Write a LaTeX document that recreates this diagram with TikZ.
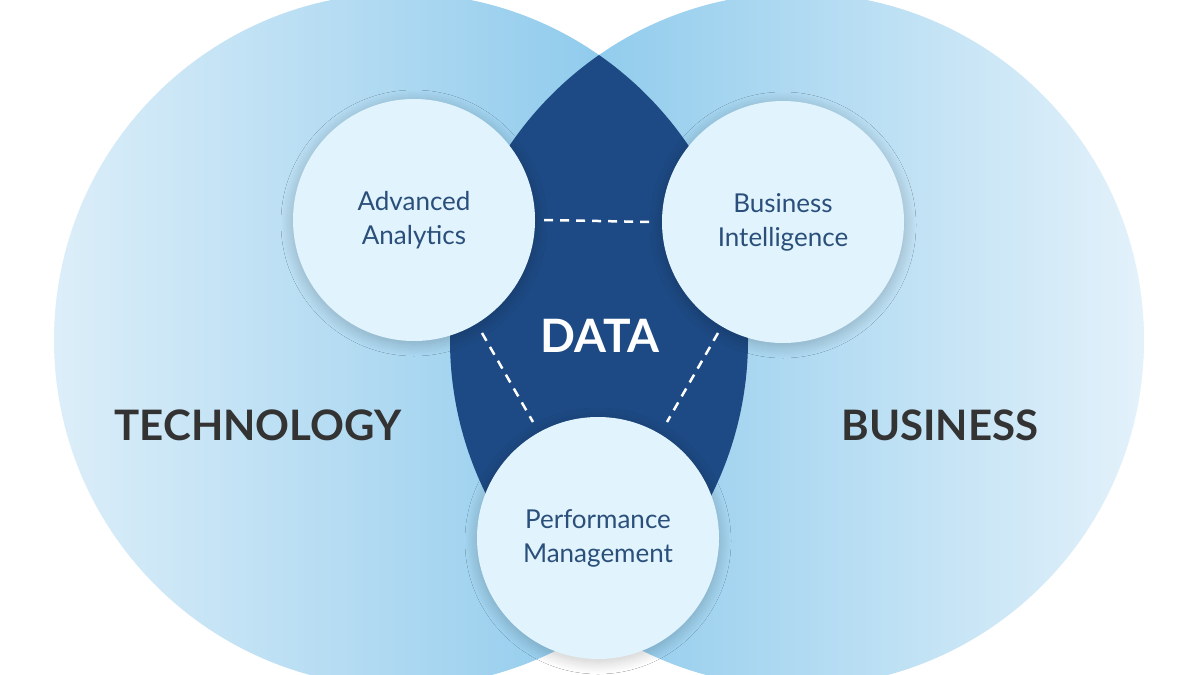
\documentclass[tikz,border=0pt]{standalone}
\usepackage{fontspec}
\setmainfont{Lato}
\usetikzlibrary{shadows.blur}
\definecolor{lightb}{HTML}{DCEEF9}
\definecolor{midb}{HTML}{7CC2E9}
\definecolor{lens}{HTML}{1D4A84}
\definecolor{small}{HTML}{E1F3FC}
\definecolor{txt}{HTML}{2B4F7B}
\definecolor{big}{HTML}{333333}
\tikzset{x=1pt,y=-1pt,
 sm/.style={circle,fill=small,minimum size=242pt,inner sep=0pt,align=center,font=\fontsize{26}{34}\selectfont,text=txt,blur shadow={shadow blur steps=20,shadow xshift=0pt,shadow yshift=-3pt,shadow blur radius=12pt,shadow opacity=22}},
 bigl/.style={font=\fontsize{42}{46}\selectfont\bfseries,text=big},
 dl/.style={white,line width=2.5pt,dash pattern=on 9pt off 7pt}}
\begin{document}
\begin{tikzpicture}
\useasboundingbox (0,0) rectangle (1200,675);
\fill[white] (0,0) rectangle (1200,675);
\begin{scope}
\clip (0,0) rectangle (1200,675);
\shade[left color=lightb,right color=midb] (401,340) circle (347);
\shade[left color=midb,right color=lightb!80!white] (797,340) circle (347);
\begin{scope}
\clip (401,340) circle (347);
\fill[lens] (797,340) circle (347);
\end{scope}
\end{scope}
\node[sm] (aa) at (414,220) {Advanced\\Analytics};
\node[sm] (bi) at (783,222) {Business\\Intelligence};
\node[sm] (pm) at (598,538) {Performance\\Management};
\draw[dl] (aa.east) ++(9,0) -- ([xshift=-10pt]bi.west);
\draw[dl] (482,333) -- (533,422);
\draw[dl] (718,333) -- (667,422);
\node[font=\fontsize{46}{50}\selectfont\bfseries,text=white] (data) at (600,336) {DATA};
\node[bigl] (tech) at (258,425) {TECHNOLOGY};
\node[bigl] (bus) at (940,425) {BUSINESS};
\end{tikzpicture}
\end{document}
